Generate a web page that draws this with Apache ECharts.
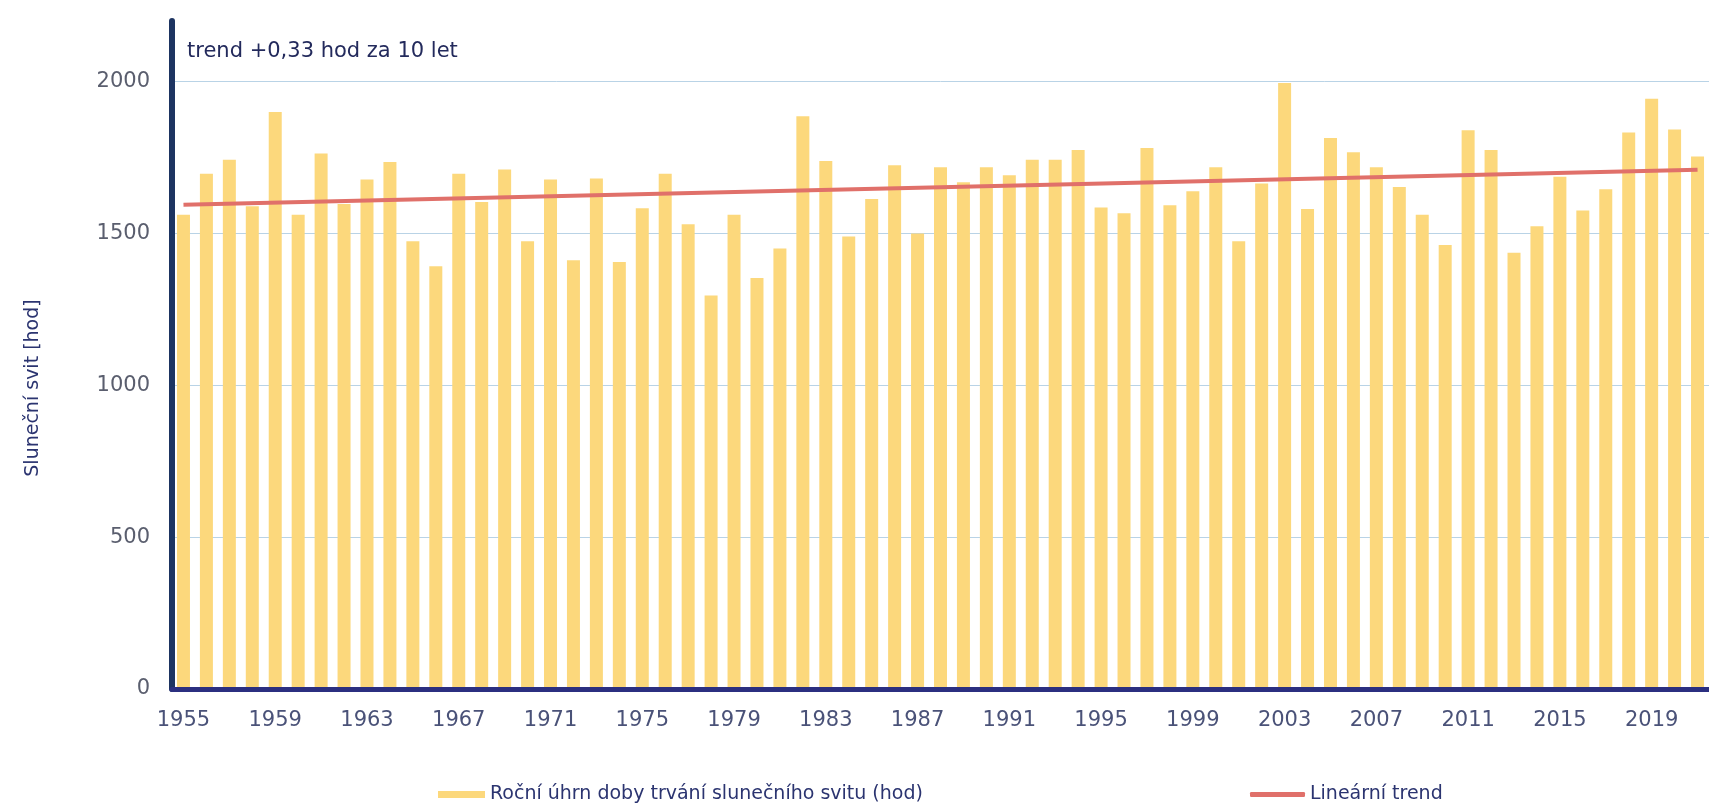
<!DOCTYPE html>
<html>
<head>
<meta charset="utf-8">
<title>Sluneční svit</title>
<script src="https://cdn.jsdelivr.net/npm/echarts@6/dist/echarts.min.js"></script>
<style>
html, body { margin: 0; padding: 0; background: #fff; }
#chart { width: 1709px; height: 810px; }
</style>
</head>
<body>
<div id="chart"></div>
<script>
// roky (posledni sloupec je v obrazku oriznuty)
const years = [
  '1955', '1956', '1957', '1958', '1959', '1960', '1961', '1962', '1963', '1964',
  '1965', '1966', '1967', '1968', '1969', '1970', '1971', '1972', '1973', '1974',
  '1975', '1976', '1977', '1978', '1979', '1980', '1981', '1982', '1983', '1984',
  '1985', '1986', '1987', '1988', '1989', '1990', '1991', '1992', '1993', '1994',
  '1995', '1996', '1997', '1998', '1999', '2000', '2001', '2002', '2003', '2004',
  '2005', '2006', '2007', '2008', '2009', '2010', '2011', '2012', '2013', '2014',
  '2015', '2016', '2017', '2018', '2019', '2020', '2021'
]
// rocni uhrn slunecniho svitu [hod]
const sunshine = [
  1562, 1697, 1743, 1590, 1900, 1562, 1764, 1597, 1678, 1736,
  1475, 1392, 1697, 1604, 1711, 1475, 1678, 1412, 1681, 1406,
  1583, 1697, 1531, 1296, 1562, 1354, 1451, 1886, 1739, 1490,
  1614, 1725, 1500, 1718, 1669, 1718, 1692, 1743, 1743, 1775,
  1586, 1567, 1782, 1593, 1639, 1718, 1475, 1665, 1996, 1581,
  1815, 1768, 1718, 1653, 1562, 1462, 1840, 1775, 1437, 1524,
  1687, 1576, 1646, 1833, 1944, 1843, 1754
]
// linearni trend - koncove body
const trendYears = ['1955', '2021']
const trendValues = [1595, 1710]

const barName = 'Roční úhrn doby trvání slunečního svitu (hod)'
const trendName = 'Lineární trend'

const navy = '#2b3470'
const font = 'DejaVu Sans'

let myChart = echarts.init(document.getElementById('chart'))
myChart.setOption({
  backgroundColor: '#ffffff',
  animation: false,
  grid: {
    left: 172,
    top: 21,
    width: 1544,
    height: 668
  },
  legend: [
    {
      data: [barName],
      left: 438,
      top: 785,
      padding: 0,
      icon: 'rect',
      itemWidth: 47,
      itemHeight: 7,
      textStyle: { fontFamily: font, fontSize: 19, color: navy }
    },
    {
      data: [trendName],
      left: 1250,
      top: 785,
      padding: 0,
      icon: 'roundRect',
      itemWidth: 55,
      itemHeight: 5,
      textStyle: { fontFamily: font, fontSize: 19, color: navy }
    }
  ],
  graphic: [
    {
      type: 'text',
      left: 187,
      top: 41,
      style: {
        text: 'trend +0,33 hod za 10 let',
        fontFamily: font,
        fontSize: 21,
        fill: '#232a5c'
      }
    },
    {
      type: 'text',
      x: 33,
      y: 388,
      rotation: Math.PI / 2,
      style: {
        text: 'Sluneční svit [hod]',
        fontFamily: font,
        fontSize: 19,
        fill: navy,
        align: 'center',
        verticalAlign: 'middle'
      }
    }
  ],
  xAxis: {
    type: 'category',
    data: years,
    z: 10,
    axisLine: { lineStyle: { color: '#2b2f80', width: 5 } },
    axisTick: { show: false },
    axisLabel: {
      interval: 3,
      margin: 21,
      fontFamily: font,
      fontSize: 21,
      color: '#4a5278'
    },
    splitLine: { show: false }
  },
  yAxis: {
    type: 'value',
    min: 0,
    max: 2200,
    interval: 500,
    axisLine: { show: true, lineStyle: { color: '#1d3461', width: 6 } },
    axisTick: { show: false },
    axisLabel: {
      margin: 22,
      showMaxLabel: false,
      fontFamily: font,
      fontSize: 21,
      color: '#5a5e6e',
      formatter: function (v) { return String(v) }
    },
    splitLine: {
      show: true,
      showMaxLine: false,
      lineStyle: { color: '#b9d3e6', width: 1 }
    }
  },
  series: [
    {
      name: barName,
      type: 'bar',
      data: sunshine,
      barWidth: 13,
      itemStyle: { color: '#fcd87c' }
    },
    {
      name: trendName,
      type: 'line',
      data: trendYears.map((y, i) => [y, trendValues[i]]),
      symbol: 'none',
      lineStyle: { color: '#e0706a', width: 4 },
      itemStyle: { color: '#e0706a' }
    }
  ]
})
</script>
</body>
</html>
